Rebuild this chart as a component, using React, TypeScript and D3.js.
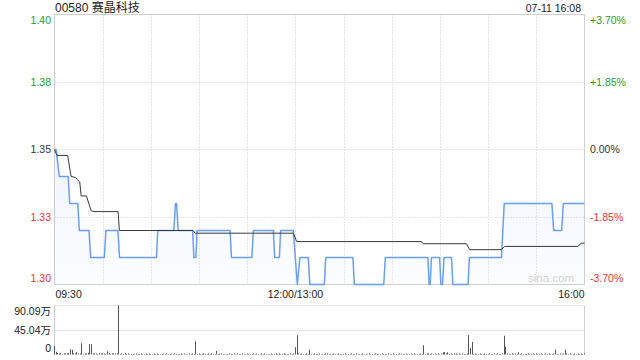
import React from "react";
import * as d3 from "d3";

// ---- data ----
const title = "00580 赛晶科技";
const stamp = "07-11 16:08";
const prevClose = 1.35;

// price polyline vertices: [minute from 09:30 (trading minutes), price]
const priceVertices: [number, number][] = [
  [0, 1.35], [1, 1.35], [3, 1.34], [8.5, 1.34], [9.5, 1.33], [14.5, 1.33], [15.5, 1.32],
  [21.5, 1.32], [22.5, 1.31], [31, 1.31], [32, 1.32], [39.5, 1.32], [40.5, 1.31],
  [63.5, 1.31], [64.3, 1.32], [74.3, 1.32], [75.3, 1.33], [76, 1.33], [77, 1.32],
  [86, 1.32], [86.8, 1.31], [88, 1.31], [88.8, 1.32], [109.3, 1.32], [110.2, 1.31],
  [122.9, 1.31], [123.8, 1.32], [136.3, 1.32], [137.1, 1.31], [140, 1.31], [140.8, 1.32],
  [148.7, 1.32], [151.2, 1.30], [152.8, 1.31], [158, 1.31], [159, 1.30], [168, 1.30],
  [168.9, 1.31], [185.8, 1.31], [186.7, 1.30], [205, 1.30], [206, 1.31], [232.5, 1.31],
  [233.3, 1.30], [233.9, 1.30], [234.7, 1.31], [239.8, 1.31], [240.6, 1.30], [241.6, 1.30],
  [242.5, 1.31], [247.2, 1.31], [248, 1.30], [257.5, 1.30], [258.3, 1.31], [278.3, 1.31],
  [280, 1.33], [309.7, 1.33], [310.8, 1.32], [315.8, 1.32], [316.8, 1.33], [330, 1.33],
];

// average price polyline vertices
const avgVertices: [number, number][] = [
  [0, 1.35], [1.5, 1.3478], [8.2, 1.3478], [10.3, 1.3401], [13, 1.3396], [15.7, 1.338],
  [16.6, 1.3328], [19.9, 1.3328], [22.8, 1.3273], [24.4, 1.327], [39.6, 1.327], [40.4, 1.32],
  [86.2, 1.32], [87.6, 1.319], [148.7, 1.319], [150.8, 1.3159], [228.5, 1.3159],
  [229.5, 1.3151], [256.5, 1.3151], [258.5, 1.3129], [278.2, 1.3129], [280.3, 1.3141],
  [325.9, 1.3141], [328, 1.3153], [330, 1.3153],
];

// per-minute small volumes (万), one digit per minute
const minorVolumeGroups = [
  "2232312223", "2122322212", "2321222132", "2212312222", "2121312111", "1211211212",
  "1121211121", "2112121112", "1211212111", "2112112121", "1212211112", "1121211211",
  "2111212112", "1211121121", "2112111212", "2121211212", "1121121112", "2111211211",
  "1211121121", "1121112111", "2111211121", "1211121112", "1121211121", "2122121212",
  "1213231212", "2121211212", "2121121121", "1211212112", "2121121213", "1211121121",
  "2112112121", "1211121212", "12112121212",
];
// larger volume bars: [minute, volume 万]
const volumeSpikes: [number, number][] = [
  [0, 15.8], [1, 5], [10, 9.7], [11, 9], [14, 4.8], [17, 20.8], [22, 19], [23, 19], [33, 6],
  [40, 90.09], [88, 24.5], [101, 6.5], [150, 13.4], [151, 35.5], [159, 9], [230, 17],
  [242, 4], [243, 4.5], [245, 4], [258, 35.5], [259, 12], [260, 23], [280, 34.5], [281, 14],
  [289, 4], [312, 9], [318, 9],
];

const priceTicks = [1.4, 1.375, 1.35, 1.325, 1.3];
const priceLabels = ["1.40", "1.38", "1.35", "1.33", "1.30"];
const pctLabels = ["+3.70%", "+1.85%", "0.00%", "-1.85%", "-3.70%"];
const timeGridMinutes = [30, 60, 90, 120, 150, 180, 210, 240, 270, 300];
const timeLabels: { m: number; t: string; a: string }[] = [
  { m: 0, t: "09:30", a: "start" },
  { m: 150, t: "12:00/13:00", a: "middle" },
  { m: 330, t: "16:00", a: "end" },
];
const volTicks = [90.09, 45.045, 0];
const volLabels = ["90.09万", "45.04万", "0"];

// ---- layout ----
const W = 640, H = 360;
const P = { left: 54.5, right: 584.5, top: 14.5, bottom: 284.5 };
const V = { top: 305.5, bottom: 354.5 };
const FONT = "'Liberation Sans', Arial, 'Noto Sans CJK SC', sans-serif";
const GREEN = "#1f9f1f";
const RED = "#ee3333";
const GRID = "#cfcfcf";

export default function App() {
  const x = d3.scaleLinear().domain([0, 330]).range([P.left, P.right]);
  const y = d3.scaleLinear().domain([1.3, 1.4]).range([P.bottom, P.top]);
  const yv = d3.scaleLinear().domain([0, 90.09]).range([V.bottom, V.top]);

  const line = d3.line<[number, number]>().x((d) => x(d[0])).y((d) => y(d[1]));
  const area = d3
    .area<[number, number]>()
    .x((d) => x(d[0]))
    .y0(P.bottom)
    .y1((d) => y(d[1]));

  const minor = minorVolumeGroups.join("");
  const spikeMap = new Map(volumeSpikes.map((s) => [s[0], s[1]]));
  const vols: [number, number][] = [];
  for (let i = 0; i <= 330; i++) {
    const v = spikeMap.has(i) ? (spikeMap.get(i) as number) : Number(minor[i] || 0);
    vols.push([i, v]);
  }

  const colorFor = (v: number) => (v > prevClose + 1e-9 ? GREEN : v < prevClose - 1e-9 ? RED : "#333");

  const labelY = (i: number, n: number, yy: number) =>
    i === 0 ? yy + 9.5 : i === n - 1 ? yy - 3 : yy + 3.6;

  return (
    <svg
      width={W}
      height={H}
      style={{ position: "fixed", left: 0, top: 0, background: "#fff" }}
      fontFamily={FONT}
    >
      <defs>
        <linearGradient id="fillg" x1="0" y1={P.top} x2="0" y2={P.bottom} gradientUnits="userSpaceOnUse">
          <stop offset="0%" stopColor="#5b97ee" stopOpacity={0.16} />
          <stop offset="100%" stopColor="#5b97ee" stopOpacity={0.02} />
        </linearGradient>
      </defs>

      {/* title */}
      <text x={55} y={11.5} fontSize={12} fill="#222">{title}</text>
      <text x={581} y={11.5} fontSize={10.5} fill="#222" textAnchor="end">{stamp}</text>

      {/* grid */}
      {priceTicks.slice(1, -1).map((t, i) => (
        <line key={"h" + i} x1={P.left} x2={P.right} y1={Math.round(y(t)) + 0.5} y2={Math.round(y(t)) + 0.5}
          stroke={GRID} strokeDasharray="1,2" />
      ))}
      {timeGridMinutes.map((m) => (
        <line key={"v" + m} x1={Math.round(x(m)) + 0.5} x2={Math.round(x(m)) + 0.5} y1={P.top} y2={P.bottom}
          stroke={GRID} strokeDasharray="1,2" />
      ))}
      <rect x={P.left} y={P.top} width={P.right - P.left} height={P.bottom - P.top} fill="none" stroke={GRID} />

      {/* area + lines */}
      <path d={area(priceVertices) || ""} fill="url(#fillg)" />
      <path d={line(priceVertices) || ""} fill="none" stroke="#6a9ff0" strokeWidth={1.5} strokeLinejoin="round" />
      <path d={line(avgVertices) || ""} fill="none" stroke="#3a3a3a" strokeWidth={1} />

      {/* watermark */}
      <text x={574} y={282} fontSize={11.5} fill="#d2d2d2" textAnchor="end">sina.com</text>

      {/* price labels */}
      {priceTicks.map((t, i) => (
        <text key={"pl" + i} x={51} y={labelY(i, priceTicks.length, y(t))} fontSize={10.5}
          textAnchor="end" fill={colorFor(t)}>{priceLabels[i]}</text>
      ))}
      {priceTicks.map((t, i) => (
        <text key={"pr" + i} x={590} y={labelY(i, priceTicks.length, y(t))} fontSize={10.5}
          fill={colorFor(t)}>{pctLabels[i]}</text>
      ))}

      {/* time labels */}
      {timeLabels.map((l) => (
        <text key={l.t} x={l.m === 0 ? x(l.m) + 1 : x(l.m)} y={297.5} fontSize={10.5}
          textAnchor={l.a as any} fill="#222">{l.t}</text>
      ))}

      {/* volume panel */}
      <line x1={P.left} x2={P.right} y1={V.top} y2={V.top} stroke={GRID} strokeDasharray="1,1" />
      <line x1={P.left} x2={P.right} y1={Math.round(yv(45.045)) + 0.5} y2={Math.round(yv(45.045)) + 0.5}
        stroke={GRID} strokeDasharray="1,1" />
      <line x1={P.left} x2={P.left} y1={V.top} y2={V.bottom} stroke={GRID} />
      <line x1={P.right} x2={P.right} y1={V.top} y2={V.bottom} stroke={GRID} />
      {vols.map(([m, v]) => {
        const xx = Math.floor(x(m)) + 0.5;
        return <line key={"vb" + m} x1={xx} x2={xx} y1={V.bottom} y2={yv(v)} stroke="#555" strokeWidth={1} />;
      })}
      {volTicks.map((t, i) => (
        <text key={"vl" + i} x={51} y={labelY(i, volTicks.length, yv(t))} fontSize={10.5}
          textAnchor="end" fill="#222">{volLabels[i]}</text>
      ))}
    </svg>
  );
}
